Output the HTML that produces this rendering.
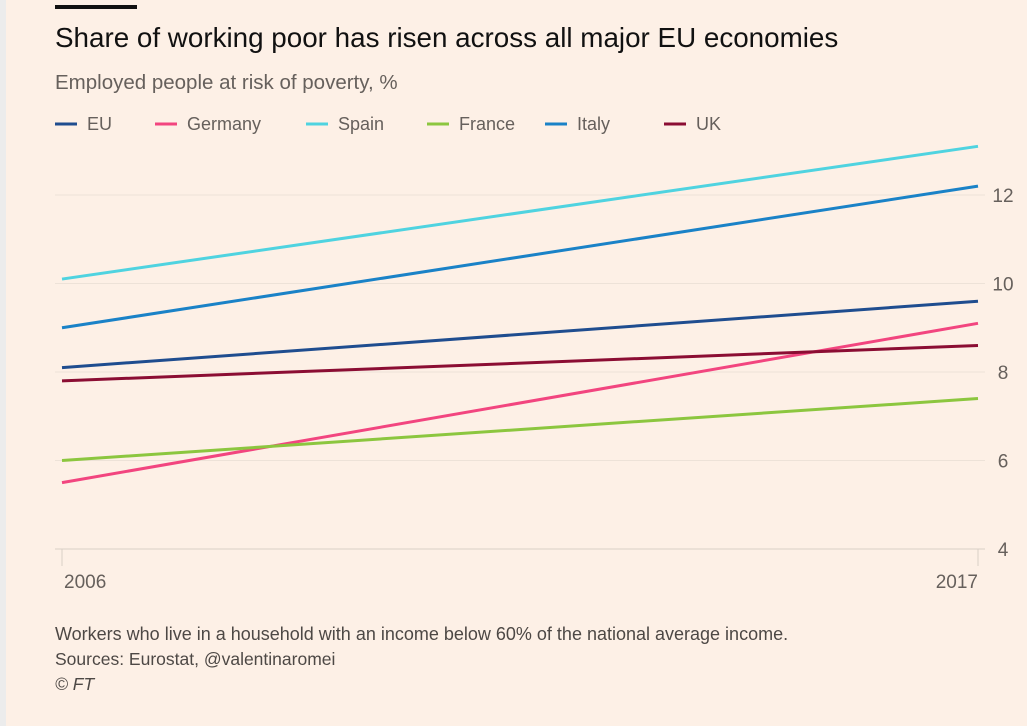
<!DOCTYPE html>
<html><head><meta charset="utf-8"><style>
body{margin:0;width:1027px;height:726px;background:#fdf0e6;font-family:"Liberation Sans",sans-serif;overflow:hidden;position:relative}
#strip{position:absolute;left:0;top:0;width:6px;height:726px;background:#ececec}
</style></head><body>
<div id="strip"></div>
<svg width="1027" height="726" style="position:absolute;left:0;top:0">
<rect x="55" y="5" width="82" height="4" fill="#111"/>
<text x="55" y="47" font-size="27.8" fill="#111">Share of working poor has risen across all major EU economies</text>
<text x="55" y="89" font-size="20.5" fill="#66605c">Employed people at risk of poverty, %</text>
<g id="legend"></g>
<g id="grid"></g>
<g id="lines"></g>
<text x="55" y="640" font-size="18" fill="#4d4845">Workers who live in a household with an income below 60% of the national average income.</text>
<text x="55" y="665" font-size="17.5" fill="#4d4845">Sources: Eurostat, @valentinaromei</text>
<text x="55" y="690" font-size="17.5" font-style="italic" fill="#4d4845">© FT</text>
</svg>
<script>
const years=[2006,2017];
const names=["EU","Germany","Spain","France","Italy","UK"];
const colors=["#1f4d8f","#f2457f","#4fd3e0","#8cc63f","#1a82c7","#8b0d33"];
const EU=[8.1,9.6];
const Germany=[5.5,9.1];
const Spain=[10.1,13.1];
const France=[6.0,7.4];
const Italy=[9.0,12.2];
const UK=[7.8,8.6];
const series=[EU,Germany,Spain,France,Italy,UK];
const yTicks=[4,6,8,10,12];
const NS="http://www.w3.org/2000/svg";
const X=y=>62+(y-2006)/(2017-2006)*916;
const Y=v=>549-(v-4)*44.25;
function mk(t,a,p){const e=document.createElementNS(NS,t);for(const k in a)e.setAttribute(k,a[k]);p.appendChild(e);return e;}
const grid=document.getElementById('grid');
yTicks.forEach(v=>{
 const l=mk('line',{x1:55,x2:985,y1:Y(v),y2:Y(v),stroke:v===4?'#d9cfc6':'#ede2d8','stroke-width':1},grid);
 
 
 const t=mk('text',{x:1003,y:Y(v)+7,'font-size':19,fill:'#66605c','text-anchor':'middle'},grid);
 t.textContent=v;
 
 
});
years.forEach(yr=>{
 const tk=mk('line',{x1:X(yr),x2:X(yr),y1:549,y2:566,stroke:'#d9cfc6'},grid);
 
 
 const t=mk('text',{x:yr===2006?64:978,y:588,'font-size':19,fill:'#66605c','text-anchor':yr===2006?'start':'end'},grid);
 t.textContent=yr;
 
 
});
const lines=document.getElementById('lines');
series.forEach((s,i)=>{
 const l=mk('line',{x1:X(years[0]),y1:Y(s[0]),x2:X(years[1]),y2:Y(s[1]),stroke:colors[i],'stroke-width':3},lines);
 
 
});
const lg=document.getElementById('legend');
const lx=[55,155,306,427,545,664];
names.forEach((n,i)=>{
 const g=mk('g',{},lg);
 
 
 mk('line',{x1:lx[i],x2:lx[i]+22,y1:124,y2:124,stroke:colors[i],'stroke-width':3},g);
 const t=mk('text',{x:lx[i]+32,y:130,'font-size':18,fill:'#66605c'},g);
 t.textContent=n;
});
</script>
</body></html>
